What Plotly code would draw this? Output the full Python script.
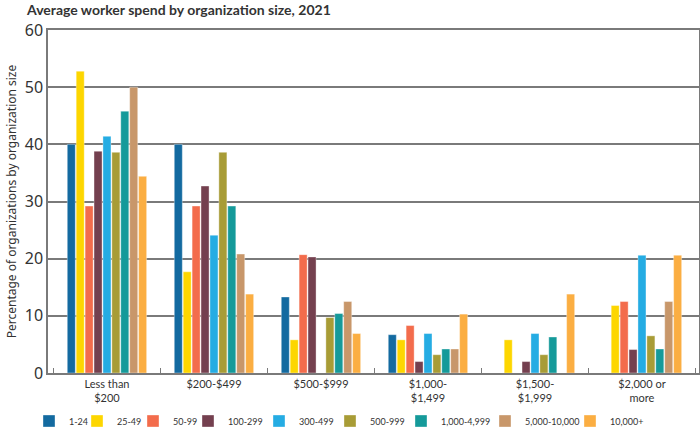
import plotly.graph_objects as go

categories = ["Less than<br>$200", "$200-$499", "$500-$999", "$1,000-<br>$1,499", "$1,500-<br>$1,999", "$2,000 or<br>more"]
series_names = ["1-24", "25-49", "50-99", "100-299", "300-499", "500-999", "1,000-4,999", "5,000-10,000", "10,000+"]

s_1_24 = [40.0, 40.0, 13.3, 6.7, 0, 0]
s_25_49 = [52.8, 17.7, 5.8, 5.8, 5.8, 11.8]
s_50_99 = [29.2, 29.2, 20.7, 8.3, 0, 12.5]
s_100_299 = [38.8, 32.7, 20.3, 2.0, 2.0, 4.1]
s_300_499 = [41.4, 24.1, 0, 6.9, 6.9, 20.6]
s_500_999 = [38.6, 38.6, 9.7, 3.2, 3.2, 6.5]
s_1000_4999 = [45.8, 29.2, 10.4, 4.2, 6.3, 4.2]
s_5000_10000 = [50.0, 20.8, 12.5, 4.2, 0, 12.5]
s_10000_plus = [34.4, 13.8, 6.9, 10.3, 13.8, 20.6]

series_values = [s_1_24, s_25_49, s_50_99, s_100_299, s_300_499, s_500_999,
                 s_1000_4999, s_5000_10000, s_10000_plus]
colors = ["#136AA0", "#FDD600", "#F36C4C", "#74404F", "#25ACE3",
          "#A89C36", "#159A9A", "#C8976A", "#FBAE42"]

y_ticks = [0, 10, 20, 30, 40, 50, 60]

# legend entry widths (px) so the single-row legend packs tightly
legend_entry_px = [3, 11, 10, 26, 26, 26, 39, 40, 40]

L, R, T, B = 48, 1, 30, 55
W, H = 700, 428
pw, ph = W - L - R, H - T - B

fig = go.Figure()
for name, vals, col, lw in zip(series_names, series_values, colors, legend_entry_px):
    fig.add_trace(go.Bar(
        x=categories, y=vals, name=name, legendwidth=lw,
        marker=dict(color=col, line=dict(color="rgba(255,255,255,0.6)", width=0.6)),
    ))

axis_col = "#7a7a7a"
fig.update_layout(
    width=W, height=H,
    margin=dict(l=L, r=R, t=T, b=B, autoexpand=False),
    paper_bgcolor="white", plot_bgcolor="white",
    barmode="group", bargap=0.25, bargroupgap=0.1,
    showlegend=True,
    title=dict(text="<b>Average worker spend by organization size, 2021</b>",
               x=27/W, xanchor="left", y=1-10/H, yanchor="middle",
               font=dict(family="Lato", size=14, color="#333333")),
    xaxis=dict(
        type="category", range=[-0.551, 5.533],
        showline=True, linecolor=axis_col, linewidth=1.5, mirror=True,
        ticks="inside", tickson="boundaries", ticklen=5, tickcolor=axis_col, tickwidth=1,
        tickfont=dict(family="Lato", size=11, color="#333333"),
        showgrid=False,
    ),
    yaxis=dict(
        range=[0, 60], tickvals=y_ticks,
        showline=True, linecolor=axis_col, linewidth=1.5, mirror=True,
        showgrid=True, gridcolor=axis_col, gridwidth=1.5,
        ticks="", tickfont=dict(family="Noto Sans", size=16, color="#333333"),
        title=dict(text="Percentage of organizations by organization size",
                   font=dict(family="Noto Sans", size=12, color="#333333"), standoff=6),
        zeroline=False,
    ),
    legend=dict(
        orientation="h", x=(29 - L) / pw, xanchor="left",
        y=(T + ph - 421) / ph, yanchor="middle",
        font=dict(family="Lato", size=9, color="#333333"),
        itemwidth=30, bgcolor="rgba(0,0,0,0)", borderwidth=0,
        traceorder="normal",
    ),
)

fig.write_html("out.html")
